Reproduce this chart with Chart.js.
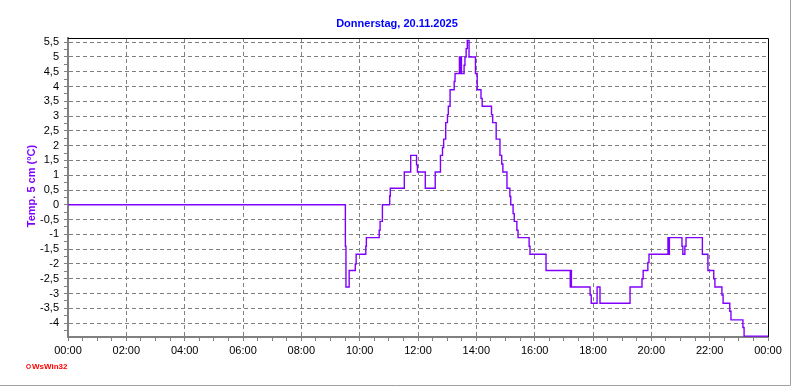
<!DOCTYPE html>
<html>
<head>
<meta charset="utf-8">
<script src="https://cdn.jsdelivr.net/npm/chart.js@4.4.1/dist/chart.umd.min.js"></script>
<style>
  body { margin: 0; background: #fff; }
  #wrap { width: 792px; height: 387px; position: relative; }
</style>
</head>
<body>
<div id="wrap"><canvas id="myChart" width="792" height="387"></canvas></div>
<script>
// time of day (hours) at which each reading starts, and its value in °C
const times = [0, 9.51, 9.53, 9.64, 9.85, 9.88, 10.21, 10.23, 10.67, 10.70, 10.78, 11.03, 11.05,
  11.53, 11.75, 11.95, 11.98, 12.25, 12.59, 12.77, 12.84, 12.88, 12.95, 13.01, 13.04, 13.10, 13.24, 13.27,
  13.42, 13.43, 13.44, 13.45, 13.46, 13.47, 13.48, 13.49, 13.58, 13.61, 13.65, 13.69, 13.75, 13.97, 14.03,
  14.16, 14.20, 14.52, 14.56, 14.68, 14.81, 14.87, 14.91, 15.05, 15.15, 15.18, 15.26, 15.30, 15.39, 15.43,
  15.81, 15.84, 16.39, 17.22, 17.23, 17.24, 17.25, 17.26, 17.28, 17.90, 17.94, 18.14, 18.24, 19.27, 19.68,
  19.72, 19.88, 19.92, 20.57, 20.58, 20.60, 20.61, 20.62, 20.64, 21.05, 21.08, 21.15, 21.19, 21.75, 21.94,
  22.14, 22.18, 22.42, 22.46, 22.69, 22.73, 23.14, 23.18, 24];
const temps = [0, -1.4, -2.78, -2.22, -2.0, -1.67, -1.4, -1.11, -0.86, -0.56, 0, 0.3, 0.56,
  1.11, 1.67, 1.35, 1.11, 0.56, 1.11, 1.67, 1.94, 2.22, 2.78, 3.05, 3.33, 3.89, 4.17, 4.44,
  5.0, 4.44, 5.0, 4.44, 5.0, 4.44, 5.0, 4.44, 4.72, 5.0, 5.28, 5.56, 5.0, 4.44, 3.89,
  3.6, 3.33, 3.05, 2.78, 2.22, 1.67, 1.38, 1.11, 0.56, 0.28, 0, -0.3, -0.56, -0.86, -1.11,
  -1.4, -1.67, -2.22, -2.78, -2.22, -2.78, -2.22, -2.78, -2.78, -3.05, -3.33, -2.78, -3.33, -2.78, -2.5,
  -2.22, -1.95, -1.67, -1.11, -1.67, -1.11, -1.67, -1.11, -1.11, -1.4, -1.67, -1.4, -1.11, -1.67, -2.22,
  -2.5, -2.78, -3.05, -3.33, -3.6, -3.89, -4.15, -4.44, -4.44];

const xTickLabels = ['00:00', '02:00', '04:00', '06:00', '08:00', '10:00', '12:00',
  '14:00', '16:00', '18:00', '20:00', '22:00', '00:00'];

const gridGray = '#808080';
const lineColor = '#8000ff';
const font = 'Arial, "Liberation Sans", sans-serif';

function isMajorY(v) {
  return Math.abs(v * 2 - Math.round(v * 2)) < 1e-6;
}

const frame = {
  id: 'frame',
  afterDraw(chart) {
    const c = chart.ctx;
    const a = chart.chartArea;
    c.save();
    // black top and right border
    c.strokeStyle = '#000';
    c.lineWidth = 1;
    c.beginPath();
    c.moveTo(a.left, a.top + 0.5);
    c.lineTo(a.right + 0.5, a.top + 0.5);
    c.lineTo(a.right + 0.5, a.bottom);
    c.stroke();
    // outer grey frame
    c.strokeStyle = '#a0a0a0';
    c.beginPath();
    c.moveTo(0, 385.5);
    c.lineTo(790.5, 385.5);
    c.lineTo(790.5, 0);
    c.stroke();
    // title
    c.fillStyle = '#0000ff';
    c.font = 'bold 11px ' + font;
    c.textAlign = 'center';
    c.textBaseline = 'middle';
    c.fillText('Donnerstag, 20.11.2025', 397, 24);
    // y axis title
    c.save();
    c.translate(32, 186);
    c.rotate(-Math.PI / 2);
    c.fillStyle = lineColor;
    c.fillText('Temp. 5 cm (°C)', 0, 0);
    c.restore();
    // watermark
    c.strokeStyle = '#ff0000';
    c.fillStyle = '#ff0000';
    c.beginPath();
    c.arc(28.5, 366.5, 2, 0, Math.PI * 2);
    c.stroke();
    c.font = 'bold 8px ' + font;
    c.textAlign = 'left';
    c.fillText('WsWin32', 32, 367);
    c.restore();
  }
};

const ctx = document.getElementById('myChart').getContext('2d');
const myChart = new Chart(ctx, {
  type: 'line',
  data: {
    datasets: [{
      label: 'Temp. 5 cm',
      data: times.map((t, i) => ({ x: t, y: temps[i] })),
      borderColor: lineColor,
      borderWidth: 1.4,
      stepped: true,
      pointRadius: 0,
      fill: false
    }]
  },
  options: {
    responsive: false,
    animation: false,
    layout: { padding: { top: 38, right: 24, left: 0, bottom: 0 } },
    plugins: {
      legend: { display: false },
      tooltip: { enabled: false }
    },
    scales: {
      x: {
        type: 'linear',
        min: 0,
        max: 24,
        afterFit(scale) { scale.height = 50; },
        ticks: {
          stepSize: 0.5,
          autoSkip: false,
          maxRotation: 0,
          padding: 3,
          color: '#000',
          font: { family: font, size: 11 },
          callback: v => (Math.abs(v % 2) < 1e-6 ? xTickLabels[Math.round(v / 2)] : '')
        },
        grid: {
          color: c => (c.tick && Math.abs(c.tick.value % 2) < 1e-6 && c.tick.value > 0 && c.tick.value < 24 ? gridGray : 'transparent'),
          tickColor: gridGray,
          tickLength: 4
        },
        border: { color: gridGray, width: 2, dash: [4, 3] }
      },
      y: {
        min: -4.47,
        max: 5.64,
        afterFit(scale) { scale.width = 68; },
        afterBuildTicks(scale) {
          const t = [];
          for (let v = -4.25; v <= 5.5 + 1e-6; v += 0.25) t.push({ value: Math.round(v * 100) / 100 });
          scale.ticks = t;
        },
        ticks: {
          autoSkip: false,
          padding: 5,
          color: '#000',
          font: { family: font, size: 11 },
          callback: v => (isMajorY(v) ? String(v).replace('.', ',') : '')
        },
        grid: {
          color: c => (c.tick && isMajorY(c.tick.value) ? gridGray : 'transparent'),
          tickColor: gridGray,
          tickLength: 4
        },
        border: { color: gridGray, width: 2, dash: [4, 3] }
      }
    }
  },
  plugins: [frame]
});
</script>
</body>
</html>
